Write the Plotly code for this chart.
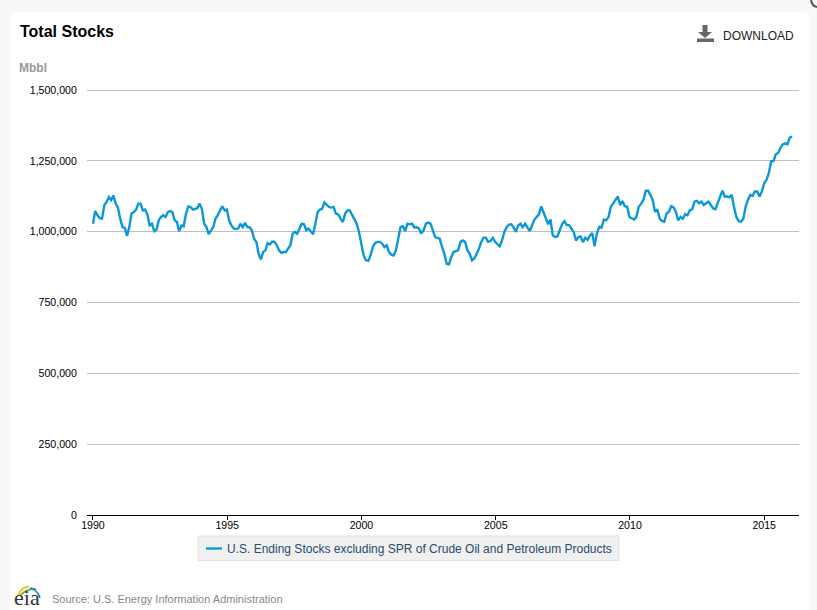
import pandas as pd
import plotly.graph_objects as go

# Thousand barrels / 1000 (three stretches of the line)
stocks_1990_1998 = [1028,1073,1058,1048,1046,1093,1105,1122,1111,1128,1099,1085,1046,1016,1014,985,1016,1064,1069,1078,1099,1099,1075,1078,1061,1022,1028,1002,1007,1040,1052,1058,1052,1069,1073,1069,1040,1034,1002,1022,1019,1064,1089,1087,1078,1081,1083,1099,1081,1028,1016,991,1005,1016,1046,1058,1075,1089,1075,1078,1040,1022,1011,1009,1011,1028,1016,1031,1016,1016,1005,975,964,922,902,928,934,960,955,965,964,952,934,925,928,928,940,952,993,999,993,1011,1028,1026,1005,1011,1002,991,1028,1069,1078]
stocks_1998_2006 = [1081,1103,1093,1087,1085,1087,1064,1061,1046,1034,1064,1075,1075,1058,1046,1028,999,958,916,899,897,916,946,960,964,964,958,946,952,928,919,916,934,975,1016,1019,1002,1028,1026,1028,1014,1016,1011,993,1005,1028,1032,1028,1007,981,978,975,946,922,887,885,911,928,931,934,964,969,964,934,922,899,905,922,940,964,979,979,964,967,978,964,954,948,969,999,1016,1025,1026,1016,999,1022,1028,1016,1028,1016,1002,1022,1042,1052,1061,1089,1069,1046,1026]
stocks_2007_2016 = [1043,987,981,983,1005,1026,1037,1023,1023,1011,999,969,981,983,963,979,971,987,995,948,993,1017,1014,1043,1040,1052,1088,1100,1114,1124,1094,1108,1090,1088,1052,1046,1043,1052,1088,1098,1112,1144,1145,1130,1112,1070,1079,1046,1038,1035,1064,1070,1090,1086,1070,1040,1052,1046,1062,1058,1076,1079,1106,1109,1100,1106,1094,1100,1106,1094,1082,1079,1100,1124,1145,1124,1124,1121,1130,1088,1052,1037,1035,1046,1088,1112,1130,1126,1142,1142,1124,1142,1171,1183,1207,1249,1249,1273,1278,1296,1308,1312,1308,1332,1336]
segment_spans = [("1990-01-01", "1998-06-15"), ("1998-07-15", "2006-12-15"), ("2007-01-15", "2016-01-15")]
y_ticks = [0, 250000, 500000, 750000, 1000000, 1250000, 1500000]
series_name = "U.S. Ending Stocks excluding SPR of Crude Oil and Petroleum Products"

dates, values = [], []
for seg, (a, b) in zip([stocks_1990_1998, stocks_1998_2006, stocks_2007_2016], segment_spans):
    dates += list(pd.date_range(a, b, periods=len(seg)))
    values += [v * 1000 for v in seg]

L, R, T, B = 87, 799, 88, 515
y_top = 1507059  # 1,500,000 sits at pixel 90; a little headroom keeps its gridline drawn
px = lambda x: (x - L) / (R - L)
py = lambda y: (B - y) / (B - T)
P = lambda x, y: f"{px(x):.5f} {py(y):.5f}"

def path(d, **kw):
    return dict(type="path", xref="paper", yref="paper", path=d, layer="below", **kw)

shapes = [
    # white card
    path(f"M{P(10,610)} L{P(10,18)} Q{P(10,12)} {P(16,12)} L{P(803,12)} Q{P(809,12)} {P(809,18)} L{P(809,610)} Z",
         fillcolor="white", line=dict(width=0)),
    # legend box
    path(f"M{P(198,536)} L{P(619,536)} L{P(619,560.5)} L{P(198,560.5)} Z",
         fillcolor="#f0f0f0", line=dict(color="#e2e2e2", width=1)),
    # download icon
    path(f"M{P(702.5,25)} L{P(707.5,25)} L{P(707.5,32)} L{P(712,32)} L{P(705,38)} L{P(698,32)} L{P(702.5,32)} Z",
         fillcolor="#666666", line=dict(width=0)),
    path(f"M{P(697,38.5)} L{P(714,38.5)} L{P(714,42)} L{P(697,42)} Z",
         fillcolor="#666666", line=dict(width=0)),
    # eia logo arcs
    path(f"M{P(18,595)} Q{P(22,587)} {P(29,586.5)}", line=dict(color="#f2c230", width=2)),
    path(f"M{P(20,596)} Q{P(26,588)} {P(36,589)}", line=dict(color="#6cb33f", width=2)),
    path(f"M{P(30,588)} Q{P(37,589)} {P(40,598)}", line=dict(color="#0a7fc2", width=1.5)),
    # corner fragment
    path(f"M{P(811,0)} Q{P(812,6)} {P(817,7)}", line=dict(color="#555555", width=2)),
]

def note(x, y, text, size, color, anchor="left", family="Liberation Sans"):
    # annotations carry about 2px of inner padding, so x is the visible ink start
    return dict(xref="paper", yref="paper", x=px(x - 2), y=py(y), text=text, showarrow=False,
                xanchor=anchor, yanchor="middle", font=dict(family=family, size=size, color=color))

annotations = [
    note(20, 31, "<b>Total Stocks</b>", 16, "#000000"),
    note(19, 68, "<b>Mbbl</b>", 12, "#999999"),
    note(723, 36, "DOWNLOAD", 12, "#222222"),
    note(52, 599, "Source: U.S. Energy Information Administration", 11, "#888888"),
    note(14, 597, "eia", 22, "#333333", family="Liberation Serif"),
]

fig = go.Figure(go.Scatter(x=dates, y=values, mode="lines", name=series_name,
                           line=dict(color="#0b98d8", width=2.4), hoverinfo="x+y"))
fig.update_layout(
    width=817, height=610,
    margin=dict(l=L, r=817 - R, t=T, b=610 - B, pad=0),
    paper_bgcolor="#f8f8f8", plot_bgcolor="rgba(0,0,0,0)",
    font=dict(family="Liberation Sans", size=10.6, color="#222222"),
    showlegend=True,
    legend=dict(orientation="h", xref="paper", yref="paper", x=px(187), y=py(534), xanchor="left", yanchor="top",
                bgcolor="rgba(0,0,0,0)", borderwidth=0,
                font=dict(size=12, color="#274b6d")),
    shapes=shapes, annotations=annotations,
    xaxis=dict(type="date", range=["1989-10-12", "2016-04-18"], tick0="1990-01-01", dtick="M60", tickformat="%Y",
               ticks="outside", ticklen=4, tickcolor="#000000", ticklabelstandoff=-4, showgrid=False, showline=True,
               linecolor="#000000", linewidth=1, zeroline=False, tickfont=dict(size=10.6, color="#000000")),
    yaxis=dict(range=[0, y_top], tickvals=y_ticks, tickformat=",d", ticks="outside", ticklen=7,
               tickcolor="rgba(0,0,0,0)", showgrid=True, gridcolor="#c0c0c0", gridwidth=1, zeroline=False,
               showline=False, tickfont=dict(size=10.6, color="#000000")),
)
# Page flush with the window; legend swatch shortened as in the reference
post = """document.body.style.margin='0';
var s=document.querySelector('.legendlines path'); if(s){s.setAttribute('d','M19,0h16');}"""
fig.write_html("out.html", post_script=post, config=dict(displayModeBar=False))
